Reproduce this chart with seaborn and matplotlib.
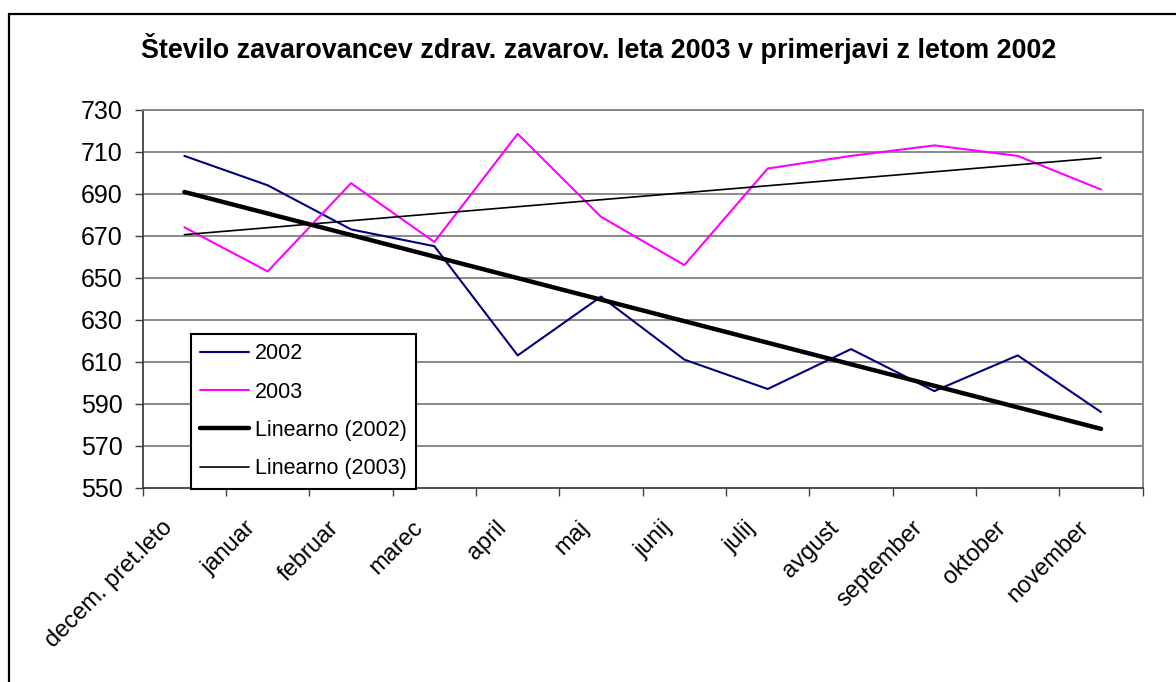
import numpy as np
import pandas as pd
import matplotlib
matplotlib.use("Agg")
import matplotlib.pyplot as plt
import matplotlib.transforms as mtransforms
import seaborn as sns
from matplotlib.lines import Line2D

months = ["decem. pret.leto", "januar", "februar", "marec", "april", "maj",
          "junij", "julij", "avgust", "september", "oktober", "november"]
vals_2002 = [708, 694, 673, 665, 613, 641, 611, 597, 616, 596, 613, 586]
vals_2003 = [674, 653, 695, 667, 718.5, 679, 656, 702, 708, 713, 708, 692]
yticks = list(range(550, 731, 20))
title = "Število zavarovancev zdrav. zavarov. leta 2003 v primerjavi z letom 2002"

sns.set_theme(style="white")
plt.rcParams['font.family'] = ['Liberation Sans', 'DejaVu Sans']
plt.rcParams['text.color'] = 'black'
plt.rcParams['xtick.color'] = 'black'
plt.rcParams['ytick.color'] = 'black'
plt.rcParams['axes.labelcolor'] = 'black'

fig = plt.figure(figsize=(11.76, 6.82), dpi=100)
W, H = 1176, 682
ax = fig.add_axes([142.7 / W, (H - 487.7) / H, 1000 / W, 378 / H])

idx = np.arange(len(months))
df = pd.DataFrame({"x": idx, "y2002": vals_2002, "y2003": vals_2003})

# trend lines (least squares)
c02 = np.polyfit(idx, vals_2002, 1)
c03 = np.polyfit(idx, vals_2003, 1)
df["t2002"] = np.polyval(c02, idx)
df["t2003"] = np.polyval(c03, idx)

for yv in yticks[1:]:
    ax.axhline(yv, color="#808080", lw=1.3, zorder=0)

sns.lineplot(data=df, x="x", y="y2002", ax=ax, color="#000080", lw=1.5, zorder=3)
sns.lineplot(data=df, x="x", y="y2003", ax=ax, color="#FF00FF", lw=1.5, zorder=3)
sns.lineplot(data=df, x="x", y="t2002", ax=ax, color="black", lw=3.2, zorder=4)
sns.lineplot(data=df, x="x", y="t2003", ax=ax, color="black", lw=1.2, zorder=4)

ax.set_xlim(-0.5, len(months) - 0.5)
ax.set_ylim(550, 730)
ax.set_xlabel("")
ax.set_ylabel("")

ax.set_yticks(yticks)
ax.set_yticklabels([str(v) for v in yticks], fontsize=18)
ax.set_xticks(np.arange(-0.5, len(months), 1.0))
ax.set_xticklabels([])
ax.set_xticks(idx, minor=True)
ax.set_xticklabels(months, minor=True, rotation=45, ha="right", va="top",
                   rotation_mode="anchor", fontsize=17)
ax.tick_params(axis="x", which="major", direction="out", length=5.5, width=1,
               color="#404040", bottom=True)
ax.tick_params(axis="x", which="minor", length=0, pad=21, bottom=True)
ax.tick_params(axis="y", which="major", direction="out", length=6, width=1,
               color="#404040", left=True, pad=8.5)

offset = mtransforms.ScaledTranslation(-23 / 100, 0, fig.dpi_scale_trans)
for lbl in ax.get_xticklabels(minor=True):
    lbl.set_transform(lbl.get_transform() + offset)

for s in ["left", "bottom"]:
    ax.spines[s].set_color("#404040")
    ax.spines[s].set_linewidth(1.3)
for s in ["top", "right"]:
    ax.spines[s].set_color("#808080")
    ax.spines[s].set_linewidth(1.3)

handles = [
    Line2D([], [], color="#000080", lw=1.5),
    Line2D([], [], color="#FF00FF", lw=1.5),
    Line2D([], [], color="black", lw=3.2),
    Line2D([], [], color="black", lw=1.2),
]
labels = ["2002", "2003", "Linearno (2002)", "Linearno (2003)"]
leg = ax.legend(handles, labels, loc="lower left", bbox_to_anchor=(0.048, -0.003),
                borderaxespad=0, frameon=True, fancybox=False, fontsize=15.5,
                handlelength=2.25, labelspacing=0.8, borderpad=0.45,
                handletextpad=0.28)
leg.get_frame().set_edgecolor("black")
leg.get_frame().set_linewidth(1.5)
leg.get_frame().set_facecolor("white")
leg.get_frame().set_alpha(1)

fig.text(598.5 / W, 1 - 49 / H, title, ha="center", va="center",
         fontsize=19.4, fontweight="bold")

# outer chart border (extends past the right and bottom edges)
fig.add_artist(Line2D([8.5 / W, 8.5 / W], [0, 1 - 13.5 / H], transform=fig.transFigure,
                      color="black", lw=1.6))
fig.add_artist(Line2D([8.5 / W, 1], [1 - 13.5 / H, 1 - 13.5 / H], transform=fig.transFigure,
                      color="black", lw=1.6))

fig.savefig("out.png", dpi=100)
